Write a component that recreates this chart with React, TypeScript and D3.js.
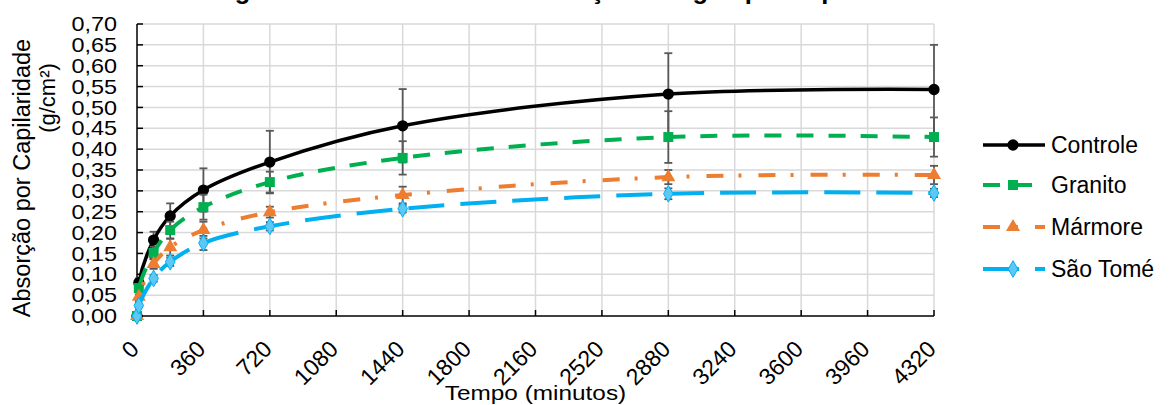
import { useEffect, useRef } from 'react'
import * as d3 from 'd3'

const times = [0, 10, 90, 180, 360, 720, 1440, 2880, 4320]
const controle = [0, 0.08, 0.182, 0.24, 0.302, 0.369, 0.456, 0.532, 0.543]
const controleErr = [0, 0.01, 0.02, 0.03, 0.052, 0.075, 0.088, 0.098, 0.107]
const granito = [0, 0.067, 0.151, 0.206, 0.261, 0.321, 0.379, 0.429, 0.429]
const granitoErr = [0, 0.008, 0.015, 0.02, 0.03, 0.025, 0.04, 0.062, 0.047]
const marmore = [0, 0.046, 0.125, 0.165, 0.206, 0.249, 0.29, 0.333, 0.338]
const marmoreErr = [0, 0.005, 0.012, 0.02, 0.02, 0.013, 0.02, 0.017, 0.022]
const saoTome = [0, 0.025, 0.09, 0.13, 0.175, 0.215, 0.257, 0.293, 0.295]
const saoTomeErr = [0, 0.004, 0.008, 0.01, 0.017, 0.01, 0.009, 0.013, 0.01]

const seriesNames = ['Controle', 'Granito', 'Mármore', 'São Tomé']
const xTicks = [0, 360, 720, 1080, 1440, 1800, 2160, 2520, 2880, 3240, 3600, 3960, 4320]
const yTicks = [0, 0.05, 0.1, 0.15, 0.2, 0.25, 0.3, 0.35, 0.4, 0.45, 0.5, 0.55, 0.6, 0.65, 0.7]

const FONT = '"Liberation Sans", Arial, sans-serif'

export default function App() {
  const ref = useRef<SVGSVGElement>(null)

  useEffect(() => {
    if (!ref.current) return
    const svg = d3.select(ref.current)
    svg.selectAll('*').remove()

    const x = d3.scaleLinear().domain([0, 4320]).range([137, 934])
    const y = d3.scaleLinear().domain([0, 0.7]).range([316, 24])

    // title sits above the visible area, only the descenders show
    svg
      .append('text')
      .attr('x', 212)
      .attr('y', -1)
      .style('font-family', FONT)
      .style('font-weight', 'bold')
      .style('font-size', '25.5px')
      .text('Figura 5 – Resultados de absorção de água por capilaridade')

    // grid
    const grid = svg.append('g').attr('stroke', '#d9d9d9').attr('stroke-width', 1.5)
    grid
      .selectAll('line.h')
      .data(yTicks.slice(1))
      .join('line')
      .attr('x1', x(0))
      .attr('x2', x(4320))
      .attr('y1', (d) => y(d))
      .attr('y2', (d) => y(d))
    grid
      .selectAll('line.v')
      .data(xTicks.slice(1))
      .join('line')
      .attr('x1', (d) => x(d))
      .attr('x2', (d) => x(d))
      .attr('y1', y(0))
      .attr('y2', y(0.7))

    // axes
    const axes = svg.append('g').attr('stroke', '#000').attr('stroke-width', 1.5)
    axes.append('line').attr('x1', x(0)).attr('x2', x(0)).attr('y1', y(0) + 1).attr('y2', y(0.7))
    axes.append('line').attr('x1', x(0)).attr('x2', x(4320)).attr('y1', y(0)).attr('y2', y(0))
    axes
      .selectAll('line.yt')
      .data(yTicks)
      .join('line')
      .attr('x1', x(0))
      .attr('x2', x(0) + 6)
      .attr('y1', (d) => y(d))
      .attr('y2', (d) => y(d))
    axes
      .selectAll('line.xt')
      .data(xTicks)
      .join('line')
      .attr('x1', (d) => x(d))
      .attr('x2', (d) => x(d))
      .attr('y1', y(0))
      .attr('y2', y(0) - 6)

    const fmt = d3.format('.2f')
    svg
      .append('g')
      .selectAll('text')
      .data(yTicks)
      .join('text')
      .attr('transform', (d) => `translate(117,${y(d)}) scale(1.3,1.1)`)
      .attr('dy', '0.36em')
      .attr('text-anchor', 'end')
      .style('font-family', FONT)
      .style('font-size', '18px')
      .text((d) => fmt(d).replace('.', ','))

    svg
      .append('g')
      .selectAll('text')
      .data(xTicks)
      .join('text')
      .attr('transform', (d) => `translate(${x(d) - 8},${y(0) + 23}) rotate(-45)`)
      .attr('text-anchor', 'end')
      .attr('dy', '0.7em')
      .style('font-family', FONT)
      .style('font-size', '23px')
      .text((d) => String(d))

    svg
      .append('text')
      .attr('transform', `translate(${(x(0) + x(4320)) / 2},400) scale(1.16,1)`)
      .attr('text-anchor', 'middle')
      .style('font-family', FONT)
      .style('font-size', '21px')
      .text('Tempo (minutos)')

    svg
      .append('text')
      .attr('transform', 'translate(30,178) rotate(-90)')
      .attr('text-anchor', 'middle')
      .style('font-family', FONT)
      .style('font-size', '23.5px')
      .text('Absorção por Capilaridade')
    svg
      .append('text')
      .attr('transform', 'translate(55,98) rotate(-90)')
      .attr('text-anchor', 'middle')
      .style('font-family', FONT)
      .style('font-size', '22px')
      .text('(g/cm²)')

    const series = [
      { name: seriesNames[0], values: controle, err: controleErr, color: '#000000', dash: null, marker: 'circle', fill: '#000000', width: 3.5 },
      { name: seriesNames[1], values: granito, err: granitoErr, color: '#00b050', dash: '17,15', marker: 'square', fill: '#00b050', width: 4 },
      { name: seriesNames[2], values: marmore, err: marmoreErr, color: '#ed7d31', dash: '17,15,3,17', marker: 'triangle', fill: '#ed7d31', width: 4 },
      { name: seriesNames[3], values: saoTome, err: saoTomeErr, color: '#00b0f0', dash: '36,16', marker: 'diamond', fill: '#5cc8f5', width: 4 },
    ]

    const symbolPath = (m: string) => {
      if (m === 'circle') return d3.symbol(d3.symbolCircle, 100)()
      if (m === 'square') return d3.symbol(d3.symbolSquare, 100)()
      if (m === 'triangle') return d3.symbol(d3.symbolTriangle, 85)()
      return d3.symbol(d3.symbolDiamond, 80)()
    }

    const line = d3
      .line<number>()
      .x((_, i) => x(times[i]))
      .y((d) => y(d))
      .curve(d3.curveCatmullRom.alpha(0.5))

    series.forEach((s) => {
      const g = svg.append('g')
      const eb = g.append('g').attr('stroke', '#595959').attr('stroke-width', 1.8)
      s.values.forEach((v, i) => {
        const e = s.err[i]
        if (!e) return
        const cx = x(times[i])
        eb.append('line').attr('x1', cx).attr('x2', cx).attr('y1', y(v - e)).attr('y2', y(v + e))
        eb.append('line').attr('x1', cx - 4).attr('x2', cx + 4).attr('y1', y(v - e)).attr('y2', y(v - e))
        eb.append('line').attr('x1', cx - 4).attr('x2', cx + 4).attr('y1', y(v + e)).attr('y2', y(v + e))
      })
      g.append('path')
        .attr('d', line(s.values))
        .attr('fill', 'none')
        .attr('stroke', s.color)
        .attr('stroke-width', s.width)
        .attr('stroke-dasharray', s.dash)
      g.selectAll('path.m')
        .data(s.values)
        .join('path')
        .attr('transform', (d, i) => `translate(${x(times[i])},${y(d)})`)
        .attr('d', symbolPath(s.marker))
        .attr('fill', s.fill)
        .attr('stroke', s.color)
        .attr('stroke-width', s.marker === 'diamond' ? 1 : 0)
    })

    // legend
    const legendY = [145, 185, 227, 269]
    series.forEach((s, i) => {
      const g = svg.append('g').attr('transform', `translate(0,${legendY[i]})`)
      g.append('line')
        .attr('x1', 983)
        .attr('x2', 1045)
        .attr('stroke', s.color)
        .attr('stroke-width', s.width)
        .attr('stroke-dasharray', s.dash)
      g.append('path')
        .attr('transform', 'translate(1013,0)')
        .attr('d', symbolPath(s.marker))
        .attr('fill', s.fill)
        .attr('stroke', s.color)
        .attr('stroke-width', s.marker === 'diamond' ? 1 : 0)
      g.append('text')
        .attr('x', 1051)
        .attr('dy', '0.36em')
        .style('font-family', FONT)
        .style('font-size', '23px')
        .text(s.name)
    })
  }, [])

  return (
    <svg
      ref={ref}
      width={1171}
      height={405}
      style={{ position: 'absolute', left: 0, top: 0, background: '#fff' }}
    />
  )
}
